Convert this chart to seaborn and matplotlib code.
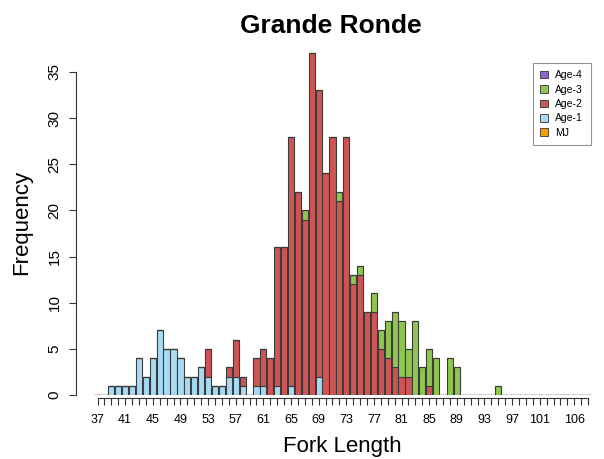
import matplotlib
matplotlib.use("Agg")
import matplotlib.pyplot as plt
from matplotlib.patches import Patch
import numpy as np
import pandas as pd
import seaborn as sns

# Fork length classes (mm), one bar per class
lengths = list(range(37, 109))

# Fish counts per fork length class, by age group (37 ... 108)
mj = [0] * 72
age1 = [
    0, 0, 1, 1, 1, 1, 4, 2, 4, 7, 5, 5,          # 37-48
    4, 2, 2, 3, 2, 1, 1, 2, 2, 1, 0, 1,          # 49-60
    1, 0, 1, 0, 1, 0, 0, 0, 2, 0, 0, 0,          # 61-72
    0, 0, 0, 0, 0, 0, 0, 0, 0, 0, 0, 0,          # 73-84
    0, 0, 0, 0, 0, 0, 0, 0, 0, 0, 0, 0,          # 85-96
    0, 0, 0, 0, 0, 0, 0, 0, 0, 0, 0, 0,          # 97-108
]
age2 = [
    0, 0, 0, 0, 0, 0, 0, 0, 0, 0, 0, 0,          # 37-48
    0, 0, 0, 0, 3, 0, 0, 1, 4, 1, 0, 3,          # 49-60
    4, 4, 15, 16, 27, 22, 19, 37, 31, 24, 28, 21,  # 61-72
    28, 12, 13, 9, 9, 5, 4, 3, 2, 2, 0, 0,       # 73-84
    1, 0, 0, 0, 0, 0, 0, 0, 0, 0, 0, 0,          # 85-96
    0, 0, 0, 0, 0, 0, 0, 0, 0, 0, 0, 0,          # 97-108
]
age3 = [
    0, 0, 0, 0, 0, 0, 0, 0, 0, 0, 0, 0,          # 37-48
    0, 0, 0, 0, 0, 0, 0, 0, 0, 0, 0, 0,          # 49-60
    0, 0, 0, 0, 0, 0, 1, 0, 0, 0, 0, 1,          # 61-72
    0, 1, 1, 0, 2, 2, 4, 6, 6, 3, 8, 3,          # 73-84
    4, 4, 0, 4, 3, 0, 0, 0, 0, 0, 1, 0,          # 85-96
    0, 0, 0, 0, 0, 0, 0, 0, 0, 0, 0, 0,          # 97-108
]
age4 = [0] * 72

# Legend / stacking order (top of stack first)
groups = ["Age-4", "Age-3", "Age-2", "Age-1", "MJ"]
colors = ["#8C64D2", "#8FC650", "#CF5454", "#A8DAF5", "#F5A100"]

# x-axis labels, thinned the way the axis shows them
xtick_labels = [37, 41, 45, 49, 53, 57, 61, 65, 69, 73, 77, 81, 85, 89, 93, 97, 101, 106]
yticks = [0, 5, 10, 15, 20, 25, 30, 35]

counts = {"Age-4": age4, "Age-3": age3, "Age-2": age2, "Age-1": age1, "MJ": mj}
df = pd.concat(
    [pd.DataFrame({"length": lengths, "age": g, "count": counts[g]}) for g in groups],
    ignore_index=True,
)

W, H = 604, 459
sns.set_style("white")
plt.rcParams["font.family"] = ["Liberation Sans", "DejaVu Sans"]
plt.rcParams["text.color"] = "black"
plt.rcParams["axes.labelcolor"] = "black"
plt.rcParams["xtick.labelcolor"] = "black"
plt.rcParams["ytick.labelcolor"] = "black"
fig = plt.figure(figsize=(W / 100, H / 100), dpi=100)

# Axes placement in pixels
px_per_class = 6.91
x37 = 97.5
ax_left, ax_right = 75.5, 600
base_y = 395.0
px_per_unit = 9.23
ymax = 38.0
ax_top = base_y - ymax * px_per_unit
ax = fig.add_axes([ax_left / W, (H - base_y) / H, (ax_right - ax_left) / W,
                   (base_y - ax_top) / H])

sns.histplot(
    data=df, x="length", weights="count", hue="age", hue_order=groups,
    palette=dict(zip(groups, colors)), multiple="stack", discrete=True,
    shrink=0.9, alpha=1, edgecolor="#3c3c3c", linewidth=0.8,
    legend=False, ax=ax,
)

ax.set_xlim(37 - (x37 - ax_left) / px_per_class, 37 + (ax_right - x37) / px_per_class)
ax.set_ylim(0, ymax)

for s in ["top", "right"]:
    ax.spines[s].set_visible(False)
ax.spines["left"].set_bounds(0, 35)
ax.spines["bottom"].set_bounds(37, 108)
ax.spines["bottom"].set_position(("outward", 2.5))
for s in ["left", "bottom"]:
    ax.spines[s].set_color("#333333")
    ax.spines[s].set_linewidth(0.8)

ax.set_xticks(lengths)
ax.set_xticklabels([str(v) if v in xtick_labels else "" for v in lengths])
ax.set_yticks(yticks)
ax.set_yticklabels([str(v) for v in yticks])
ax.tick_params(axis="x", direction="out", length=5, width=0.8, color="#333333",
               labelsize=9, pad=6, bottom=True, labelcolor="black")
ax.tick_params(axis="y", direction="out", length=5, width=0.8, color="#333333",
               labelsize=11, pad=5, labelrotation=90, left=True, labelcolor="black")
for lab in ax.get_yticklabels():
    lab.set_va("center")
ax.set_xlabel("")
ax.set_ylabel("")

fig.text(331 / W, 1 - 33 / H, "Grande Ronde", ha="center", va="baseline",
         fontsize=19, fontweight="bold", color="black")
fig.text(342 / W, 1 - 452 / H, "Fork Length", ha="center", va="baseline",
         fontsize=16, color="black")
fig.text(22 / W, 1 - 222 / H, "Frequency", ha="center", va="center",
         rotation=90, fontsize=16, color="black")

handles = [Patch(facecolor=c, edgecolor="#333333", linewidth=0.6) for c in colors]
leg = ax.legend(
    handles, groups, loc="upper left", bbox_to_anchor=(533 / W, 1 - 63 / H),
    bbox_transform=fig.transFigure, fontsize=7.5, frameon=True, fancybox=False,
    handlelength=0.75, handleheight=0.75, handletextpad=0.7, labelspacing=0.42,
    borderpad=0.7, borderaxespad=0,
)
leg.get_frame().set_edgecolor("#777777")
leg.get_frame().set_linewidth(0.8)
for t in leg.get_texts():
    t.set_color("black")

fig.savefig("out.png", dpi=100)
